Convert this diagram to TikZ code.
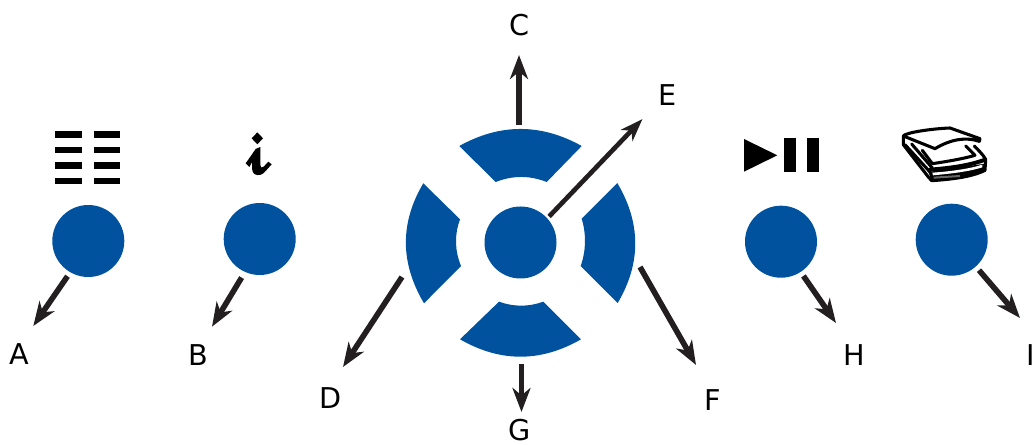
\documentclass[tikz,border=0pt]{standalone}
\usepackage{fontspec}
\setmainfont{DejaVu Sans}
\usetikzlibrary{arrows.meta}
\definecolor{btn}{RGB}{0,82,158}
\definecolor{arr}{RGB}{35,31,32}
\tikzset{
  btnc/.style={circle,fill=btn,draw=none,minimum size=54pt,inner sep=0pt,outer sep=0pt},
  seg/.style={fill=btn,draw=none},
  conn/.style={draw=arr,line width=4.2pt,-{Stealth[length=18pt,width=13.5pt,inset=5.5pt]}},
  connthin/.style={draw=arr,line width=3.5pt,-{Stealth[length=17pt,width=12pt,inset=5pt]}},
  lab/.style={font=\fontsize{21.5pt}{23pt}\selectfont,text=black,inner sep=0pt},
  ink/.style={fill=black,draw=none},
  scanline/.style={draw=black,line width=2.3pt,line join=round,line cap=round}
}
\begin{document}
\begin{tikzpicture}[x=0.75pt,y=-0.75pt]
\useasboundingbox (0,0) rectangle (1036,445);
\clip (0,0) rectangle (1036,445);
% buttons
\node[btnc] (nA) at (88.3,241) {};
\node[btnc] (nB) at (259.7,239) {};
\node[btnc] (nC) at (520.5,242.5) {};
\node[btnc] (nH) at (781,241.7) {};
\node[btnc] (nI) at (951.7,239.7) {};
% segments
\fill[seg] (459.3,146) .. controls (500.1,123.3) and (540.9,123.3) .. (581.7,146) -- (546.7,182) .. controls (529.7,175.3) and (512.7,175.3) .. (495.7,182) -- cycle;
\fill[seg] (424,303.3) .. controls (400.3,263.3) and (399.6,223.3) .. (423.3,183.3) -- (460,219.3) .. controls (454.3,234.9) and (454.7,250.4) .. (461,266) -- cycle;
\fill[seg] (617.3,183) .. controls (641,223) and (641.3,263) .. (617.7,303) -- (580.7,266) .. controls (586.1,250.2) and (586.4,234.5) .. (581.7,218.7) -- cycle;
\fill[seg] (581,339.3) .. controls (540.7,362.5) and (500.3,362.5) .. (460,339.3) -- (499,301.7) .. controls (513.8,307) and (528.5,307) .. (543.3,301.7) -- cycle;
% segment ends of connectors
\coordinate (sT) at (519,125);
\coordinate (sL) at (402,277);
\coordinate (sR) at (640,267);
\coordinate (sB) at (521.5,364);
% labels
\node[lab] (lA) at (19.5,354) {A};
\node[lab] (lB) at (198,355) {B};
\node[lab] (lC) at (520,25) {C};
\node[lab] (lD) at (331,398) {D};
\node[lab] (lE) at (668,95) {E};
\node[lab] (lF) at (712.5,400) {F};
\node[lab] (lG) at (520,430.5) {G};
\node[lab] (lH) at (854,355) {H};
\node[lab] (lI) at (1031,355) {I};
% tips
\coordinate (tA) at (33.3,326);
\coordinate (tB) at (212,326.7);
\coordinate (tC) at (519,55);
\coordinate (tD) at (343,367);
\coordinate (tE) at (642.5,119);
\coordinate (tF) at (696,365);
\coordinate (tG) at (521.5,412);
\coordinate (tH) at (836,323);
\coordinate (tI) at (1020,318);
% connectors
\draw[conn,shorten <=3.7pt] (nA.-120) -- (tA);
\draw[conn,shorten <=5pt] (nB.-114) -- (tB);
\draw[conn] (sT) -- (tC);
\draw[conn] (sL) -- (tD);
\draw[connthin,shorten <=2pt] (nC.42) -- (tE);
\draw[conn] (sR) -- (tF);
\draw[conn] (sB) -- (tG);
\draw[conn,shorten <=3.7pt] (nH.-57) -- (tH);
\draw[conn,shorten <=3.7pt] (nI.-48) -- (tI);
% list icon
\foreach \y in {131.3,146.7,162.3,177.7}{
  \fill[ink] (55,\y) rectangle (82.3,\y+6.4);
  \fill[ink] (93.7,\y) rectangle (120.3,\y+6.4);
}
% info icon
\begin{scope}[shift={(235,125)},x=0.25pt,y=-0.25pt]
  \fill[ink] (67,22) -- (84,40) -- (67,58) -- (50,40) -- cycle;
  \fill[ink] (76,66) -- (62,72) -- (32,115) -- (43,126) -- (52,110)
    .. controls (50,125) and (50,140) .. (58,147)
    .. controls (70,155) and (85,148) .. (92,138)
    -- (110,118) -- (100,110) -- (86,125)
    .. controls (80,130) and (76,128) .. (76,120) -- cycle;
\end{scope}
% play pause
\fill[ink] (744,139) -- (744,171.7) -- (777.3,155.3) -- cycle;
\fill[ink] (784,138.3) rectangle (795.7,171.7);
\fill[ink] (806.7,138.3) rectangle (819,171.7);
% scanner icon
\begin{scope}[shift={(895,122)},x=0.25pt,y=-0.25pt]
  % base outline
  \draw[scanline] (25,42) -- (25,68) -- (100,165) -- (110,176)
    .. controls (170,172) and (230,165) .. (270,145) -- (272,112)
    .. controls (262,95) and (250,85) .. (238,72);
  % lid
  \draw[scanline] (25,42) .. controls (30,32) and (110,20) .. (165,18) -- (255,50) -- (253,58)
    .. controls (215,45) and (170,50) .. (120,80)
    -- (25,42);
  % glass
  \draw[scanline] (82,85) -- (112,125) .. controls (160,118) and (205,110) .. (240,100) -- (212,72);
  % base front edge and side lines
  \draw[scanline,line width=3pt] (105,143) .. controls (170,138) and (225,130) .. (270,113);
  \draw[scanline] (30,68) -- (105,150);
  \draw[scanline] (50,66) -- (112,138);
  \fill[ink] (100,150) -- (270,125) -- (270,145) .. controls (230,165) and (170,172) .. (110,176) -- cycle;
  \fill[white] (112,152) .. controls (170,148) and (225,140) .. (262,128) -- (262,136) .. controls (225,148) and (170,155) .. (114,160) -- cycle;
  \draw[draw=black!60,line width=1.5pt] (116,167) -- (195,162);
\end{scope}
\end{tikzpicture}
\end{document}
